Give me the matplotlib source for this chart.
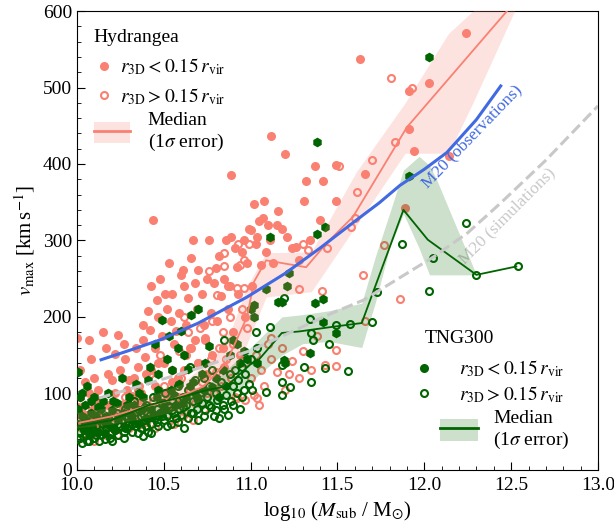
import matplotlib
matplotlib.use('Agg')
import matplotlib.pyplot as plt
from matplotlib.lines import Line2D
from matplotlib.patches import Patch
import numpy as np

plt.rcParams['font.family'] = ['Liberation Serif', 'DejaVu Serif']
plt.rcParams['mathtext.fontset'] = 'stix'

SALMON = '#FA8072'
GREEN = '#006400'
BLUE = '#4169E1'
GREY = '#c8c8c8'

# Hydrangea, r3D < 0.15 rvir
hyd_in = [
    (10.00, 172), (10.02, 95), (10.03, 75), (10.05, 62), (10.07, 170), (10.08, 145), (10.10, 120),
    (10.12, 105), (10.13, 80), (10.15, 180), (10.17, 160), (10.18, 125), (10.05, 115), (10.10, 88),
    (10.18, 70), (10.02, 130), (10.07, 100), (10.12, 58),
    (10.01, 82), (10.04, 70), (10.09, 78), (10.14, 92), (10.19, 85), (10.24, 68), (10.29, 105),
    (10.33, 120), (10.37, 100), (10.43, 130), (10.47, 140), (10.55, 115), (10.63, 150), (10.68, 170),
    (10.22, 152), (10.24, 176), (10.25, 130), (10.27, 165), (10.28, 145), (10.30, 118), (10.32, 96),
    (10.34, 160), (10.35, 135), (10.36, 110), (10.38, 190), (10.38, 170), (10.39, 148), (10.40, 125),
    (10.22, 100), (10.26, 85), (10.31, 75), (10.35, 90), (10.20, 118),
    (10.41, 208), (10.42, 183), (10.43, 240), (10.44, 327), (10.45, 160), (10.46, 222), (10.47, 200),
    (10.48, 250), (10.49, 175), (10.50, 140), (10.51, 230), (10.52, 210), (10.53, 271), (10.54, 195),
    (10.55, 230), (10.56, 165), (10.57, 182), (10.58, 120), (10.59, 205), (10.60, 255), (10.45, 110),
    (10.52, 100), (10.58, 95),
    (10.61, 262), (10.62, 240), (10.63, 190), (10.64, 225), (10.65, 160), (10.66, 277), (10.67, 301),
    (10.68, 245), (10.69, 210), (10.70, 262), (10.72, 230), (10.73, 190), (10.74, 172), (10.75, 250),
    (10.76, 300), (10.77, 205), (10.78, 150), (10.79, 245), (10.62, 130), (10.70, 140), (10.75, 125),
    (10.80, 264), (10.81, 195), (10.82, 280), (10.83, 228), (10.84, 160), (10.85, 250), (10.86, 300),
    (10.87, 210), (10.88, 240), (10.89, 386), (10.89, 304), (10.90, 180), (10.91, 290), (10.92, 265),
    (10.93, 230), (10.94, 150), (10.95, 285), (10.96, 300), (10.97, 200), (10.98, 270), (10.99, 315),
    (10.85, 135),
    (11.00, 314), (11.01, 240), (11.02, 348), (11.03, 295), (11.04, 305), (11.05, 325), (11.06, 268),
    (11.07, 330), (11.08, 351), (11.09, 285), (11.10, 320), (11.11, 300), (11.12, 436), (11.13, 270),
    (11.15, 320), (11.16, 338), (11.18, 315), (11.20, 413), (11.21, 305), (11.24, 290), (11.26, 292),
    (11.28, 275),
    (11.31, 351), (11.32, 378), (11.34, 300), (11.37, 397), (11.40, 327), (11.42, 378), (11.49, 351),
    (11.49, 399), (11.63, 537), (11.66, 387), (11.91, 495), (11.91, 446), (11.94, 417), (12.03, 506),
    (12.14, 410), (12.24, 571), (11.89, 342),
]

# Hydrangea, r3D > 0.15 rvir
hyd_out = [
    (10.01, 40), (10.03, 55), (10.05, 48), (10.08, 62), (10.10, 38), (10.12, 70), (10.15, 52),
    (10.18, 85), (10.20, 60), (10.23, 45), (10.25, 75), (10.28, 95), (10.30, 55), (10.33, 68),
    (10.35, 105), (10.38, 80), (10.40, 62), (10.42, 125), (10.44, 90), (10.46, 70), (10.48, 150),
    (10.02, 65), (10.06, 72), (10.09, 50), (10.14, 62), (10.17, 45), (10.22, 70), (10.27, 58),
    (10.32, 80), (10.37, 60), (10.41, 75), (10.45, 55), (10.51, 90), (10.56, 60), (10.61, 70),
    (10.67, 65), (10.73, 80), (10.79, 100),
    (10.50, 110), (10.52, 82), (10.54, 65), (10.55, 130), (10.57, 95), (10.59, 155), (10.60, 120),
    (10.62, 200), (10.63, 75), (10.64, 180), (10.65, 105), (10.66, 160), (10.68, 88), (10.70, 140),
    (10.71, 185), (10.72, 115), (10.74, 170), (10.75, 100), (10.76, 260), (10.77, 145), (10.78, 195),
    (10.80, 128), (10.81, 229), (10.82, 160), (10.83, 110), (10.84, 180), (10.85, 283), (10.85, 266),
    (10.86, 145), (10.87, 240), (10.88, 200), (10.89, 120), (10.90, 165), (10.91, 95), (10.92, 238),
    (10.93, 295), (10.94, 268), (10.95, 210), (10.96, 274), (10.96, 238), (10.97, 140), (10.98, 185),
    (10.99, 296), (11.00, 120), (11.02, 98), (11.03, 150), (11.05, 85), (11.06, 130), (11.08, 110),
    (11.10, 165), (11.12, 145), (11.12, 172), (11.15, 128), (11.18, 160), (11.20, 105), (11.22, 125),
    (11.24, 142), (11.28, 237), (11.28, 120), (11.30, 295), (11.30, 155), (11.33, 288), (11.35, 130),
    (11.38, 175), (11.41, 234), (11.43, 137), (11.44, 290), (11.49, 157), (11.49, 136), (11.51, 398),
    (11.58, 318), (11.60, 330), (11.61, 364), (11.65, 255), (11.66, 195), (11.70, 405), (11.77, 294),
    (11.81, 513), (11.83, 429), (11.86, 223), (11.93, 499), (10.97, 92), (10.92, 94), (11.04, 94),
]

# TNG300, r3D < 0.15 rvir
tng_in = [
    (10.01, 128), (10.02, 95), (10.03, 70), (10.04, 55), (10.05, 85), (10.06, 110), (10.07, 45),
    (10.08, 75), (10.09, 60), (10.10, 95), (10.11, 50), (10.12, 82), (10.13, 65), (10.15, 90),
    (10.16, 48), (10.17, 70), (10.18, 100), (10.19, 58), (10.20, 78), (10.22, 52), (10.23, 88),
    (10.01, 80), (10.03, 100), (10.05, 65), (10.08, 90), (10.11, 70), (10.14, 80), (10.17, 62),
    (10.21, 90), (10.25, 70), (10.29, 85), (10.32, 65), (10.36, 100), (10.39, 82), (10.44, 72),
    (10.47, 105), (10.51, 80), (10.56, 98), (10.61, 88), (10.65, 110), (10.69, 95), (10.73, 105),
    (10.24, 66), (10.26, 120), (10.27, 75), (10.28, 55), (10.30, 95), (10.31, 70), (10.33, 85),
    (10.34, 112), (10.35, 60), (10.37, 78), (10.38, 95), (10.40, 68), (10.41, 118), (10.42, 135),
    (10.43, 80), (10.45, 165), (10.46, 95), (10.47, 125), (10.48, 75), (10.49, 196), (10.50, 88),
    (10.52, 145), (10.53, 175), (10.54, 105), (10.55, 130), (10.57, 85), (10.58, 160), (10.59, 112),
    (10.60, 181), (10.62, 150), (10.63, 95), (10.64, 132), (10.66, 202), (10.67, 115), (10.68, 100),
    (10.70, 211), (10.72, 125), (10.74, 140), (10.76, 162), (10.78, 108), (10.80, 120), (10.82, 95),
    (10.84, 130), (10.86, 110), (10.88, 150), (10.90, 170), (10.92, 165), (10.94, 140), (10.96, 155),
    (10.98, 145), (11.00, 210), (11.02, 216), (11.02, 200), (11.04, 140), (11.09, 237), (11.11, 305),
    (11.16, 220), (11.18, 219), (11.19, 144), (11.20, 140), (11.21, 240), (11.22, 258), (11.34, 153),
    (11.37, 218), (11.38, 308), (11.38, 429), (11.42, 194), (11.42, 223), (11.43, 317), (11.49, 179),
    (11.91, 384), (12.03, 540),
]

# TNG300, r3D > 0.15 rvir
tng_out = [
    (10.00, 40), (10.01, 60), (10.02, 50), (10.03, 35), (10.04, 68), (10.05, 45), (10.06, 55),
    (10.07, 38), (10.08, 48), (10.09, 65), (10.10, 42), (10.11, 58), (10.12, 50), (10.13, 72),
    (10.14, 45), (10.15, 60), (10.16, 40), (10.17, 55), (10.18, 68), (10.19, 48), (10.20, 38),
    (10.02, 42), (10.04, 52), (10.06, 38), (10.09, 55), (10.11, 45), (10.13, 38), (10.16, 62),
    (10.19, 42), (10.21, 55), (10.24, 60), (10.27, 42), (10.29, 68), (10.32, 60), (10.35, 48),
    (10.37, 70), (10.40, 58), (10.43, 48), (10.46, 62), (10.49, 70), (10.52, 58), (10.55, 78),
    (10.58, 62), (10.61, 82), (10.64, 68), (10.67, 75), (10.70, 92), (10.73, 70), (10.76, 85),
    (10.80, 78), (10.85, 80), (10.90, 85), (10.95, 95), (10.99, 112), (11.01, 105),
    (10.21, 62), (10.22, 52), (10.23, 75), (10.24, 45), (10.25, 58), (10.26, 65), (10.27, 50),
    (10.28, 80), (10.29, 55), (10.30, 62), (10.31, 72), (10.32, 50), (10.33, 90), (10.34, 58),
    (10.35, 68), (10.36, 78), (10.37, 55), (10.38, 44), (10.39, 65), (10.40, 85), (10.41, 50),
    (10.42, 72), (10.43, 60), (10.44, 95), (10.45, 68), (10.46, 80), (10.47, 58), (10.48, 75),
    (10.49, 88), (10.50, 65), (10.51, 100), (10.52, 70), (10.53, 82), (10.54, 60), (10.55, 92),
    (10.56, 75), (10.57, 68), (10.58, 110), (10.59, 80), (10.60, 72), (10.61, 95), (10.62, 55),
    (10.63, 85), (10.64, 105), (10.65, 135), (10.66, 75), (10.67, 90), (10.68, 118), (10.69, 80),
    (10.70, 65), (10.71, 100), (10.72, 88), (10.73, 120), (10.74, 78), (10.75, 95), (10.76, 110),
    (10.77, 82), (10.78, 130), (10.79, 70), (10.80, 100), (10.81, 92), (10.82, 68), (10.83, 115),
    (10.84, 85), (10.85, 170), (10.86, 98), (10.87, 72), (10.88, 125), (10.89, 90), (10.90, 110),
    (10.91, 130), (10.92, 100), (10.93, 118), (10.94, 80), (10.95, 135), (10.96, 105), (10.97, 125),
    (11.00, 145), (11.03, 180), (11.04, 160), (11.09, 102), (11.11, 187), (11.18, 115), (11.18, 98),
    (11.18, 137), (11.19, 225), (11.23, 108), (11.31, 135), (11.34, 197), (11.35, 179), (11.35, 115),
    (11.36, 170), (11.43, 133), (11.45, 165), (11.49, 190), (11.56, 129), (11.57, 191), (11.70, 194),
    (11.73, 232), (11.87, 295), (12.03, 234), (12.05, 277), (12.24, 323), (12.30, 255), (12.54, 266),
]

# medians and 1 sigma bands
hyd_med_x = [10.02, 10.09, 10.2, 10.38, 10.54, 10.73, 10.86, 10.98, 11.02, 11.09, 11.32, 11.44, 11.59, 11.9, 12.48]
hyd_med_y = [62, 65, 70, 82, 91, 109, 140, 200, 246, 274, 265, 297, 331, 448, 601]
hyd_band_x = [10.0, 10.2, 10.4, 10.6, 10.8, 10.9, 10.98, 11.09, 11.35, 11.61, 11.89, 12.14, 12.28, 12.6]
hyd_band_lo = [55, 60, 68, 78, 100, 125, 165, 226, 233, 320, 414, 414, 480, 640]
hyd_band_hi = [75, 82, 95, 112, 150, 190, 240, 284, 285, 390, 480, 571, 600, 640]

tng_med_x = [10.0, 10.2, 10.42, 10.6, 10.76, 10.86, 11.0, 11.04, 11.18, 11.28, 11.47, 11.64, 11.88, 12.02, 12.3, 12.53]
tng_med_y = [57, 65, 85, 95, 105, 109, 138, 142, 179, 181, 187, 192, 340, 301, 255, 266]
tng_band_x = [10.0, 10.3, 10.6, 10.8, 11.0, 11.18, 11.3, 11.45, 11.64, 11.72, 11.8, 11.88, 11.97, 12.03, 12.07, 12.3]
tng_band_lo = [45, 55, 70, 85, 115, 150, 165, 168, 160, 220, 290, 335, 290, 255, 255, 255]
tng_band_hi = [65, 78, 95, 118, 160, 200, 203, 208, 218, 280, 335, 392, 410, 398, 380, 255]

# M20 relations
obs_x = [10.14, 10.3, 10.48, 10.7, 10.98, 11.2, 11.4, 11.6, 11.74, 11.86, 12.0, 12.13, 12.3, 12.44]
obs_y = [144, 156, 170, 192, 226, 257, 290, 325, 349, 372, 393, 415, 458, 502]
sim_x = [10.13, 10.4, 10.73, 11.0, 11.25, 11.47, 11.65, 11.85, 12.05, 12.25, 12.44, 12.7, 13.0]
sim_y = [94, 112, 135, 156, 182, 205, 222, 250, 278, 310, 349, 405, 476]

fig = plt.figure(figsize=(6.14, 5.25), dpi=100)
ax = fig.add_axes([0.125, 0.105, 0.849, 0.874])

hx, hy = np.array(hyd_in).T
ax.plot(hx, hy, 'o', color=SALMON, ms=6.5, mew=0, zorder=2)
hx, hy = np.array(hyd_out).T
ax.plot(hx, hy, 'o', mfc='none', mec=SALMON, ms=5, mew=1.5, zorder=2)
tx, ty = np.array(tng_in).T
ax.plot(tx, ty, 'h', color=GREEN, ms=7, mew=0, zorder=3)
tx, ty = np.array(tng_out).T
ax.plot(tx, ty, 'o', mfc='none', mec=GREEN, ms=5, mew=1.5, zorder=3)

ax.fill_between(hyd_band_x, hyd_band_lo, hyd_band_hi, color=SALMON, alpha=0.22, lw=0, zorder=4)
ax.fill_between(tng_band_x, tng_band_lo, tng_band_hi, color=GREEN, alpha=0.2, lw=0, zorder=4)
ax.plot(hyd_med_x, hyd_med_y, color=SALMON, lw=1.3, zorder=5)
ax.plot(tng_med_x, tng_med_y, color=GREEN, lw=1.3, zorder=5)

ax.plot(obs_x, obs_y, color=BLUE, lw=2.2, zorder=6)
ax.plot(sim_x, sim_y, color=GREY, lw=2.2, ls='--', zorder=6)
ax.text(12.02, 368, 'M20 (observations)', color=BLUE, fontsize=12.5, rotation=46,
        rotation_mode='anchor', ha='left', va='baseline', zorder=7)
ax.text(12.23, 268, 'M20 (simulations)', color=GREY, fontsize=12.5, rotation=45,
        rotation_mode='anchor', ha='left', va='baseline', zorder=3)

ax.set_xlim(10.0, 13.0)
ax.set_ylim(0, 600)
ax.set_xticks(np.arange(10.0, 13.01, 0.5))
ax.set_xticks(np.arange(10.0, 13.01, 0.1), minor=True)
ax.set_yticks(np.arange(0, 601, 100))
ax.set_yticks(np.arange(0, 601, 20), minor=True)
ax.tick_params(which='both', direction='in', labelsize=14)
ax.tick_params(which='major', length=6)
ax.tick_params(which='minor', length=3)
ax.tick_params(axis='x', which='major', pad=5)
ax.set_xlabel(r'log$_{10}$ ($M_{\rm sub}$ / M$_{\odot}$)', fontsize=15, labelpad=4)
ax.set_ylabel(r'$v_{\rm max}$ [km$\,$s$^{-1}$]', fontsize=15, labelpad=4)

lab_in = r'$r_{\rm 3D} < 0.15\,r_{\rm vir}$'
lab_out = r'$r_{\rm 3D} > 0.15\,r_{\rm vir}$'

# Hydrangea legend
ax.text(10.095, 566, 'Hydrangea', fontsize=14, ha='left', va='center')
h1 = [Line2D([], [], ls='', marker='o', color=SALMON, ms=6.5, mew=0),
      Line2D([], [], ls='', marker='o', mfc='none', mec=SALMON, ms=5, mew=1.5)]
leg = ax.legend(h1, [lab_in, lab_out], loc='center left', frameon=False, fontsize=14,
                handlelength=1.0, handletextpad=0.35, labelspacing=0.45,
                bbox_to_anchor=(0.0, 0.846))
ax.add_artist(leg)
leg = ax.legend([(Patch(color=SALMON, alpha=0.22, lw=0), Line2D([], [], color=SALMON, lw=2))],
                ['Median\n(1$\\sigma$ error)'], loc='center left', frameon=False, fontsize=14,
                handlelength=1.85, handleheight=1.3, handletextpad=0.9,
                bbox_to_anchor=(0.0, 0.735))
ax.add_artist(leg)

# TNG300 legend
ax.text(12.0, 172, 'TNG300', fontsize=14, ha='left', va='center')
h2 = [Line2D([], [], ls='', marker='o', color=GREEN, ms=6.5, mew=0),
      Line2D([], [], ls='', marker='o', mfc='none', mec=GREEN, ms=5, mew=1.5)]
leg = ax.legend(h2, [lab_in, lab_out], loc='center left', frameon=False, fontsize=14,
                handlelength=1.0, handletextpad=1.3, labelspacing=0.25,
                bbox_to_anchor=(0.614, 0.1925))
ax.add_artist(leg)
ax.legend([(Patch(color=GREEN, alpha=0.2, lw=0), Line2D([], [], color=GREEN, lw=2))],
          ['Median\n(1$\\sigma$ error)'], loc='center left', frameon=False, fontsize=14,
          handlelength=1.95, handleheight=1.3, handletextpad=0.8,
          bbox_to_anchor=(0.663, 0.0867))

fig.savefig('out.png', dpi=100)
